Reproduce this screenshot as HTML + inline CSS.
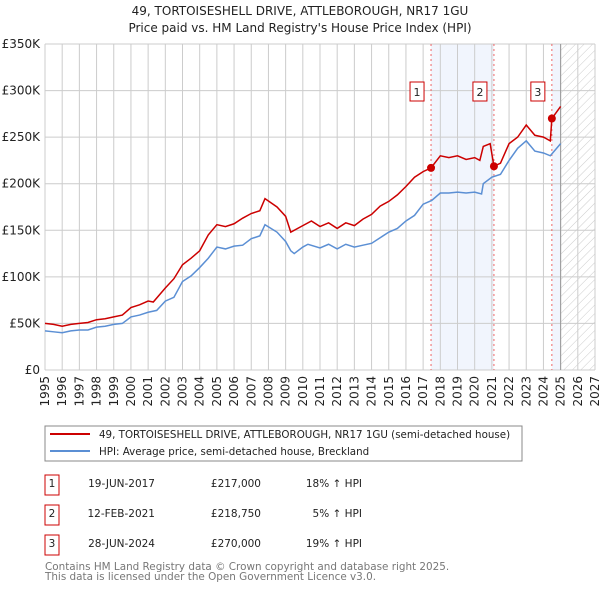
<!DOCTYPE html>
<html><head><meta charset="utf-8"><style>
body{margin:0;background:#fff;font-family:"Liberation Sans","DejaVu Sans",sans-serif}
svg text{font-family:"DejaVu Sans","Liberation Sans",sans-serif}
</style></head><body>
<svg id="c" width="600" height="590" xmlns="http://www.w3.org/2000/svg">
<defs><pattern id="hatch" width="6" height="6" patternUnits="userSpaceOnUse" patternTransform="rotate(45)"><line x1="0" y1="0" x2="0" y2="6" stroke="#ccc" stroke-width="1"/></pattern></defs>
<text x="300" y="15" text-anchor="middle" font-size="12" fill="#222">49, TORTOISESHELL DRIVE, ATTLEBOROUGH, NR17 1GU</text>
<text x="300" y="32" text-anchor="middle" font-size="12" fill="#222">Price paid vs. HM Land Registry's House Price Index (HPI)</text>
<g id="plot"></g>
<g>
<rect x="45" y="426" width="477" height="35" fill="#fff" stroke="#888"/>
<line x1="50" y1="434" x2="90" y2="434" stroke="#cc0000" stroke-width="2"/>
<text x="99" y="438" font-size="10.3" fill="#222">49, TORTOISESHELL DRIVE, ATTLEBOROUGH, NR17 1GU (semi-detached house)</text>
<line x1="50" y1="451" x2="90" y2="451" stroke="#5b8fd4" stroke-width="2"/>
<text x="99" y="455" font-size="10.3" fill="#222">HPI: Average price, semi-detached house, Breckland</text>
</g>
<g font-size="10.5" fill="#222">
<rect x="45" y="475" width="14" height="20" fill="#fff" stroke="#cc0000"/><text x="52" y="487" text-anchor="middle">1</text>
<text x="155" y="487" text-anchor="end">19-JUN-2017</text><text x="261" y="487" text-anchor="end">£217,000</text><text x="362" y="487" text-anchor="end">18% ↑ HPI</text>
<rect x="45" y="505" width="14" height="20" fill="#fff" stroke="#cc0000"/><text x="52" y="517" text-anchor="middle">2</text>
<text x="155" y="517" text-anchor="end">12-FEB-2021</text><text x="261" y="517" text-anchor="end">£218,750</text><text x="362" y="517" text-anchor="end">5% ↑ HPI</text>
<rect x="45" y="535" width="14" height="20" fill="#fff" stroke="#cc0000"/><text x="52" y="547" text-anchor="middle">3</text>
<text x="155" y="547" text-anchor="end">28-JUN-2024</text><text x="261" y="547" text-anchor="end">£270,000</text><text x="362" y="547" text-anchor="end">19% ↑ HPI</text>
</g>
<text x="45" y="570" font-size="10.4" fill="#777">Contains HM Land Registry data © Crown copyright and database right 2025.</text>
<text x="45" y="580" font-size="10.4" fill="#777">This data is licensed under the Open Government Licence v3.0.</text>
</svg>
<script>
const hpiYears=[1995,1995.5,1996,1996.5,1997,1997.5,1998,1998.5,1999,1999.5,2000,2000.5,2001,2001.5,2002,2002.5,2003,2003.5,2004,2004.5,2005,2005.5,2006,2006.5,2007,2007.5,2007.8,2008.5,2009,2009.3,2009.5,2010,2010.3,2011,2011.5,2012,2012.5,2013,2013.5,2014,2014.5,2015,2015.5,2016,2016.5,2017,2017.5,2018,2018.5,2019,2019.5,2020,2020.4,2020.5,2021,2021.5,2022,2022.5,2023,2023.5,2024,2024.4,2025];
const hpiValues=[42,41,40,42,43,43,46,47,49,50,57,59,62,64,74,78,95,101,110,120,132,130,133,134,141,144,156,148,138,128,125,132,135,131,135,130,135,132,134,136,142,148,152,160,166,178,182,190,190,191,190,191,189,200,207,210,225,238,246,235,233,230,243];
const priceYears=[1995,1995.5,1996,1996.5,1997,1997.5,1998,1998.5,1999,1999.5,2000,2000.5,2001,2001.3,2002,2002.5,2003,2003.5,2004,2004.5,2005,2005.5,2006,2006.5,2007,2007.5,2007.8,2008.5,2009,2009.3,2010,2010.5,2011,2011.5,2012,2012.5,2013,2013.5,2014,2014.5,2015,2015.5,2016,2016.5,2017,2017.46,2018,2018.5,2019,2019.5,2020,2020.3,2020.5,2020.9,2021.12,2021.5,2022,2022.5,2023,2023.5,2024,2024.4,2024.49,2025];
const priceValues=[50,49,47,49,50,51,54,55,57,59,67,70,74,73,88,98,113,120,128,145,156,154,157,163,168,171,184,175,165,148,155,160,154,158,152,158,155,162,167,176,181,188,197,207,213,217,230,228,230,226,228,225,240,243,218.75,222,243,250,263,252,250,246,270,283];
const saleYears=[2017.46,2021.12,2024.49];
const saleValues=[217,218.75,270];
const saleLabels=["1","2","3"];
const yTicks=[0,50,100,150,200,250,300,350];
const yTickLabels=["£0","£50K","£100K","£150K","£200K","£250K","£300K","£350K"];
const xTicks=[1995,1996,1997,1998,1999,2000,2001,2002,2003,2004,2005,2006,2007,2008,2009,2010,2011,2012,2013,2014,2015,2016,2017,2018,2019,2020,2021,2022,2023,2024,2025,2026,2027];

const X0=45,X1=595,Y0=370,Y1=44;
const xs=y=>X0+(y-1995)/(2027-1995)*(X1-X0);
const ys=v=>Y0-v/350*(Y0-Y1);
const NS="http://www.w3.org/2000/svg";
const g=document.getElementById('plot');
function mk(t,a){const e=document.createElementNS(NS,t);for(const k in a)e.setAttribute(k,a[k]);g.appendChild(e);return e;}
let e;
e=mk('rect',{x:xs(2017.46),y:Y1,width:xs(2021.12)-xs(2017.46),height:Y0-Y1,fill:'#eef3fc',opacity:0.8});


e=mk('rect',{x:xs(2024.49),y:Y1,width:xs(2025)-xs(2024.49),height:Y0-Y1,fill:'#eef3fc',opacity:0.8});


e=mk('rect',{x:xs(2025),y:Y1,width:X1-xs(2025),height:Y0-Y1,fill:'url(#hatch)'});


yTicks.forEach((v,i)=>{
 e=mk('line',{x1:X0,x2:X1,y1:ys(v),y2:ys(v),stroke:'#ccc'});
 
 
 e=mk('text',{x:40,y:ys(v)+4,'text-anchor':'end','font-size':12,fill:'#222'});e.textContent=yTickLabels[i];
 
 
});
xTicks.forEach(t=>{
 e=mk('line',{x1:xs(t),x2:xs(t),y1:Y1,y2:Y0,stroke:'#ccc'});
 
 
 e=mk('text',{'font-size':12,fill:'#222','text-anchor':'end',transform:`translate(${xs(t)+4},${Y0+6}) rotate(-90)`});e.textContent=t;
 
 
});
e=mk('line',{x1:xs(2025),x2:xs(2025),y1:Y1,y2:Y0,stroke:'#999'});


saleYears.forEach((y,i)=>{
 e=mk('line',{x1:xs(y),x2:xs(y),y1:Y1,y2:Y0,stroke:'#e66','stroke-dasharray':'2,3'});
 
 
 e=mk('rect',{x:xs(y)-21,y:82,width:14,height:19,fill:'#fff',stroke:'#cc0000'});
 
 
 e=mk('text',{x:xs(y)-14,y:96,'text-anchor':'middle','font-size':11,fill:'#222'});e.textContent=saleLabels[i];
 
 
});
e=mk('polyline',{points:hpiYears.map((y,i)=>xs(y)+','+ys(hpiValues[i])).join(' '),fill:'none',stroke:'#5b8fd4','stroke-width':1.5});


e=mk('polyline',{points:priceYears.map((y,i)=>xs(y)+','+ys(priceValues[i])).join(' '),fill:'none',stroke:'#cc0000','stroke-width':1.5});


saleYears.forEach((y,i)=>{
 e=mk('circle',{cx:xs(y),cy:ys(saleValues[i]),r:4,fill:'#cc0000'});
 
 
});
</script>
</body></html>
